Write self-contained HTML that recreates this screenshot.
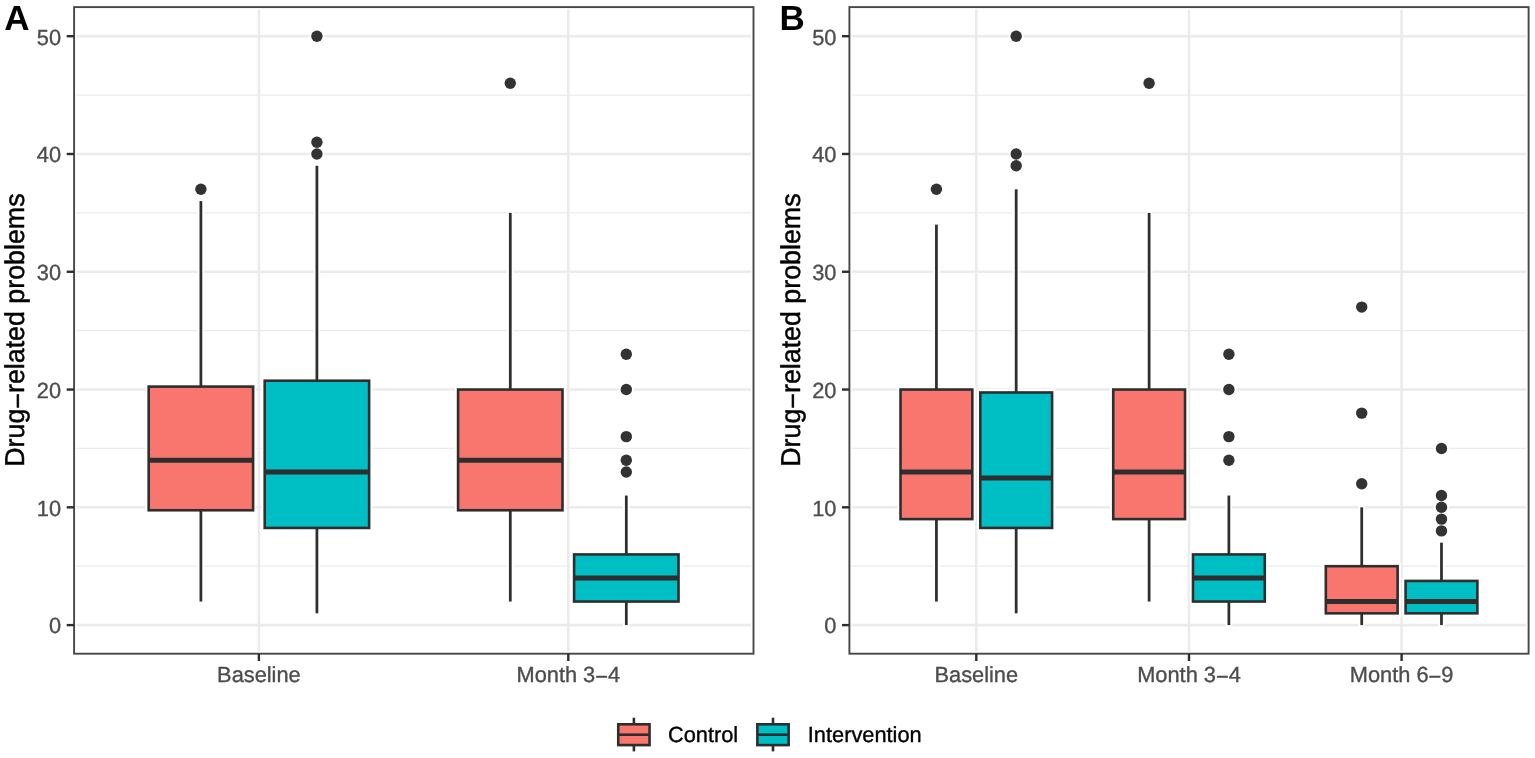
<!DOCTYPE html>
<html lang="en">
<head>
<meta charset="utf-8">
<title>Drug-related problems: Baseline, Month 3-4, Month 6-9 (Control, Intervention)</title>
<style>
html,body{margin:0;padding:0;background:#fff;}
body{width:1535px;height:758px;overflow:hidden;font-family:"Liberation Sans",sans-serif;}
svg{display:block;}
</style>
</head>
<body>
<svg width="1535" height="758" viewBox="0 0 1535 758" font-family="'Liberation Sans', sans-serif" text-rendering="geometricPrecision">
<rect width="1535" height="758" fill="#fff"/>
<g class="panel">
<rect x="74.1" y="7.1" width="679.40" height="646.60" fill="#fff"/>
<g class="grid">
<line x1="74.1" x2="753.5" y1="566.21" y2="566.21" stroke="#ebebeb" stroke-width="1.3"/>
<line x1="74.1" x2="753.5" y1="448.43" y2="448.43" stroke="#ebebeb" stroke-width="1.3"/>
<line x1="74.1" x2="753.5" y1="330.65" y2="330.65" stroke="#ebebeb" stroke-width="1.3"/>
<line x1="74.1" x2="753.5" y1="212.87" y2="212.87" stroke="#ebebeb" stroke-width="1.3"/>
<line x1="74.1" x2="753.5" y1="95.09" y2="95.09" stroke="#ebebeb" stroke-width="1.3"/>
<line x1="74.1" x2="753.5" y1="625.10" y2="625.10" stroke="#ebebeb" stroke-width="2.6"/>
<line x1="74.1" x2="753.5" y1="507.32" y2="507.32" stroke="#ebebeb" stroke-width="2.6"/>
<line x1="74.1" x2="753.5" y1="389.54" y2="389.54" stroke="#ebebeb" stroke-width="2.6"/>
<line x1="74.1" x2="753.5" y1="271.76" y2="271.76" stroke="#ebebeb" stroke-width="2.6"/>
<line x1="74.1" x2="753.5" y1="153.98" y2="153.98" stroke="#ebebeb" stroke-width="2.6"/>
<line x1="74.1" x2="753.5" y1="36.20" y2="36.20" stroke="#ebebeb" stroke-width="2.6"/>
<line x1="258.90" x2="258.90" y1="7.1" y2="653.7" stroke="#ebebeb" stroke-width="2.6"/>
<line x1="568.30" x2="568.30" y1="7.1" y2="653.7" stroke="#ebebeb" stroke-width="2.6"/>
</g>
<g class="halo" stroke="#fff" fill="#fff">
<circle cx="200.89" cy="189.31" r="7.50" stroke="none"/>
<line x1="200.89" x2="200.89" y1="199.09" y2="603.54" stroke-width="6.75"/>
<rect x="148.68" y="386.60" width="104.42" height="123.67" stroke-width="6.6"/>
<circle cx="316.91" cy="153.98" r="7.50" stroke="none"/>
<circle cx="316.91" cy="142.20" r="7.50" stroke="none"/>
<circle cx="316.91" cy="36.20" r="7.50" stroke="none"/>
<line x1="316.91" x2="316.91" y1="163.76" y2="615.32" stroke-width="6.75"/>
<rect x="264.70" y="380.71" width="104.42" height="147.23" stroke-width="6.6"/>
<circle cx="510.29" cy="83.31" r="7.50" stroke="none"/>
<line x1="510.29" x2="510.29" y1="210.87" y2="603.54" stroke-width="6.75"/>
<rect x="458.08" y="389.54" width="104.42" height="120.72" stroke-width="6.6"/>
<circle cx="626.31" cy="471.99" r="7.50" stroke="none"/>
<circle cx="626.31" cy="460.21" r="7.50" stroke="none"/>
<circle cx="626.31" cy="436.65" r="7.50" stroke="none"/>
<circle cx="626.31" cy="389.54" r="7.50" stroke="none"/>
<circle cx="626.31" cy="354.21" r="7.50" stroke="none"/>
<line x1="626.31" x2="626.31" y1="493.54" y2="627.10" stroke-width="6.75"/>
<rect x="574.10" y="554.43" width="104.42" height="47.11" stroke-width="6.6"/>
<rect x="74.1" y="7.1" width="679.40" height="646.60" fill="none" stroke-width="4.9"/>
</g>
<g class="box">
<circle cx="200.89" cy="189.31" r="5.7" fill="#333333"/>
<line x1="200.89" x2="200.89" y1="201.09" y2="386.60" stroke="#2e2e2e" stroke-width="2.75"/>
<line x1="200.89" x2="200.89" y1="510.26" y2="601.54" stroke="#2e2e2e" stroke-width="2.75"/>
<rect x="148.68" y="386.60" width="104.42" height="123.67" fill="#F8766D" stroke="#2e2e2e" stroke-width="2.6" stroke-linejoin="miter"/>
<line x1="148.68" x2="253.10" y1="460.21" y2="460.21" stroke="#2e2e2e" stroke-width="5.0"/>
</g>
<g class="box">
<circle cx="316.91" cy="153.98" r="5.7" fill="#333333"/>
<circle cx="316.91" cy="142.20" r="5.7" fill="#333333"/>
<circle cx="316.91" cy="36.20" r="5.7" fill="#333333"/>
<line x1="316.91" x2="316.91" y1="165.76" y2="380.71" stroke="#2e2e2e" stroke-width="2.75"/>
<line x1="316.91" x2="316.91" y1="527.93" y2="613.32" stroke="#2e2e2e" stroke-width="2.75"/>
<rect x="264.70" y="380.71" width="104.42" height="147.23" fill="#00BFC4" stroke="#2e2e2e" stroke-width="2.6" stroke-linejoin="miter"/>
<line x1="264.70" x2="369.12" y1="471.99" y2="471.99" stroke="#2e2e2e" stroke-width="5.0"/>
</g>
<g class="box">
<circle cx="510.29" cy="83.31" r="5.7" fill="#333333"/>
<line x1="510.29" x2="510.29" y1="212.87" y2="389.54" stroke="#2e2e2e" stroke-width="2.75"/>
<line x1="510.29" x2="510.29" y1="510.26" y2="601.54" stroke="#2e2e2e" stroke-width="2.75"/>
<rect x="458.08" y="389.54" width="104.42" height="120.72" fill="#F8766D" stroke="#2e2e2e" stroke-width="2.6" stroke-linejoin="miter"/>
<line x1="458.08" x2="562.50" y1="460.21" y2="460.21" stroke="#2e2e2e" stroke-width="5.0"/>
</g>
<g class="box">
<circle cx="626.31" cy="471.99" r="5.7" fill="#333333"/>
<circle cx="626.31" cy="460.21" r="5.7" fill="#333333"/>
<circle cx="626.31" cy="436.65" r="5.7" fill="#333333"/>
<circle cx="626.31" cy="389.54" r="5.7" fill="#333333"/>
<circle cx="626.31" cy="354.21" r="5.7" fill="#333333"/>
<line x1="626.31" x2="626.31" y1="495.54" y2="554.43" stroke="#2e2e2e" stroke-width="2.75"/>
<line x1="626.31" x2="626.31" y1="601.54" y2="625.10" stroke="#2e2e2e" stroke-width="2.75"/>
<rect x="574.10" y="554.43" width="104.42" height="47.11" fill="#00BFC4" stroke="#2e2e2e" stroke-width="2.6" stroke-linejoin="miter"/>
<line x1="574.10" x2="678.52" y1="577.99" y2="577.99" stroke="#2e2e2e" stroke-width="5.0"/>
</g>
<rect x="74.1" y="7.1" width="679.40" height="646.60" fill="none" stroke="#474747" stroke-width="1.9"/>
<g class="axis-y">
<line x1="66.70" x2="74.10" y1="625.10" y2="625.10" stroke="#2e2e2e" stroke-width="2.4"/>
<text transform="translate(61.10,633.40)" text-anchor="end" font-size="21.8" fill="#4d4d4d" stroke="#4d4d4d" stroke-width="0.35">0</text>
<line x1="66.70" x2="74.10" y1="507.32" y2="507.32" stroke="#2e2e2e" stroke-width="2.4"/>
<text transform="translate(61.10,515.62)" text-anchor="end" font-size="21.8" fill="#4d4d4d" stroke="#4d4d4d" stroke-width="0.35">10</text>
<line x1="66.70" x2="74.10" y1="389.54" y2="389.54" stroke="#2e2e2e" stroke-width="2.4"/>
<text transform="translate(61.10,397.84)" text-anchor="end" font-size="21.8" fill="#4d4d4d" stroke="#4d4d4d" stroke-width="0.35">20</text>
<line x1="66.70" x2="74.10" y1="271.76" y2="271.76" stroke="#2e2e2e" stroke-width="2.4"/>
<text transform="translate(61.10,280.06)" text-anchor="end" font-size="21.8" fill="#4d4d4d" stroke="#4d4d4d" stroke-width="0.35">30</text>
<line x1="66.70" x2="74.10" y1="153.98" y2="153.98" stroke="#2e2e2e" stroke-width="2.4"/>
<text transform="translate(61.10,162.28)" text-anchor="end" font-size="21.8" fill="#4d4d4d" stroke="#4d4d4d" stroke-width="0.35">40</text>
<line x1="66.70" x2="74.10" y1="36.20" y2="36.20" stroke="#2e2e2e" stroke-width="2.4"/>
<text transform="translate(61.10,44.50)" text-anchor="end" font-size="21.8" fill="#4d4d4d" stroke="#4d4d4d" stroke-width="0.35">50</text>
</g>
<g class="axis-x">
<line x1="258.90" x2="258.90" y1="653.7" y2="661.00" stroke="#2e2e2e" stroke-width="2.4"/>
<text transform="translate(258.90,682.20)" text-anchor="middle" font-size="21.8" fill="#4d4d4d" stroke="#4d4d4d" stroke-width="0.35">Baseline</text>
<line x1="568.30" x2="568.30" y1="653.7" y2="661.00" stroke="#2e2e2e" stroke-width="2.4"/>
<text transform="translate(568.30,682.20)" text-anchor="middle" font-size="21.8" fill="#4d4d4d" stroke="#4d4d4d" stroke-width="0.35">Month 3<tspan dy="1.7">−</tspan><tspan dy="-1.7">4</tspan></text>
</g>
<text transform="translate(24.40,330.10) rotate(-90) scale(1,1.02)" text-anchor="middle" font-size="26.8" fill="#000" stroke="#000" stroke-width="0.45">Drug<tspan dy="2.09">−</tspan><tspan dy="-2.09">related problems</tspan></text>
<text transform="translate(4.20,30.10)" text-anchor="start" font-size="35" fill="#000" font-weight="bold">A</text>
</g>
<g class="panel">
<rect x="849.4" y="7.1" width="679.20" height="646.60" fill="#fff"/>
<g class="grid">
<line x1="849.4" x2="1528.6" y1="566.21" y2="566.21" stroke="#ebebeb" stroke-width="1.3"/>
<line x1="849.4" x2="1528.6" y1="448.43" y2="448.43" stroke="#ebebeb" stroke-width="1.3"/>
<line x1="849.4" x2="1528.6" y1="330.65" y2="330.65" stroke="#ebebeb" stroke-width="1.3"/>
<line x1="849.4" x2="1528.6" y1="212.87" y2="212.87" stroke="#ebebeb" stroke-width="1.3"/>
<line x1="849.4" x2="1528.6" y1="95.09" y2="95.09" stroke="#ebebeb" stroke-width="1.3"/>
<line x1="849.4" x2="1528.6" y1="625.10" y2="625.10" stroke="#ebebeb" stroke-width="2.6"/>
<line x1="849.4" x2="1528.6" y1="507.32" y2="507.32" stroke="#ebebeb" stroke-width="2.6"/>
<line x1="849.4" x2="1528.6" y1="389.54" y2="389.54" stroke="#ebebeb" stroke-width="2.6"/>
<line x1="849.4" x2="1528.6" y1="271.76" y2="271.76" stroke="#ebebeb" stroke-width="2.6"/>
<line x1="849.4" x2="1528.6" y1="153.98" y2="153.98" stroke="#ebebeb" stroke-width="2.6"/>
<line x1="849.4" x2="1528.6" y1="36.20" y2="36.20" stroke="#ebebeb" stroke-width="2.6"/>
<line x1="976.30" x2="976.30" y1="7.1" y2="653.7" stroke="#ebebeb" stroke-width="2.6"/>
<line x1="1189.00" x2="1189.00" y1="7.1" y2="653.7" stroke="#ebebeb" stroke-width="2.6"/>
<line x1="1401.60" x2="1401.60" y1="7.1" y2="653.7" stroke="#ebebeb" stroke-width="2.6"/>
</g>
<g class="halo" stroke="#fff" fill="#fff">
<circle cx="936.42" cy="189.31" r="7.50" stroke="none"/>
<line x1="936.42" x2="936.42" y1="222.65" y2="603.54" stroke-width="6.75"/>
<rect x="900.53" y="389.54" width="71.79" height="129.56" stroke-width="6.6"/>
<circle cx="1016.18" cy="165.76" r="7.50" stroke="none"/>
<circle cx="1016.18" cy="153.98" r="7.50" stroke="none"/>
<circle cx="1016.18" cy="36.20" r="7.50" stroke="none"/>
<line x1="1016.18" x2="1016.18" y1="187.31" y2="615.32" stroke-width="6.75"/>
<rect x="980.29" y="392.48" width="71.79" height="135.45" stroke-width="6.6"/>
<circle cx="1149.12" cy="83.31" r="7.50" stroke="none"/>
<line x1="1149.12" x2="1149.12" y1="210.87" y2="603.54" stroke-width="6.75"/>
<rect x="1113.23" y="389.54" width="71.79" height="129.56" stroke-width="6.6"/>
<circle cx="1228.88" cy="460.21" r="7.50" stroke="none"/>
<circle cx="1228.88" cy="436.65" r="7.50" stroke="none"/>
<circle cx="1228.88" cy="389.54" r="7.50" stroke="none"/>
<circle cx="1228.88" cy="354.21" r="7.50" stroke="none"/>
<line x1="1228.88" x2="1228.88" y1="493.54" y2="627.10" stroke-width="6.75"/>
<rect x="1192.99" y="554.43" width="71.79" height="47.11" stroke-width="6.6"/>
<circle cx="1361.72" cy="483.76" r="7.50" stroke="none"/>
<circle cx="1361.72" cy="413.10" r="7.50" stroke="none"/>
<circle cx="1361.72" cy="307.09" r="7.50" stroke="none"/>
<line x1="1361.72" x2="1361.72" y1="505.32" y2="627.10" stroke-width="6.75"/>
<rect x="1325.83" y="566.21" width="71.79" height="47.11" stroke-width="6.6"/>
<circle cx="1441.48" cy="530.88" r="7.50" stroke="none"/>
<circle cx="1441.48" cy="519.10" r="7.50" stroke="none"/>
<circle cx="1441.48" cy="507.32" r="7.50" stroke="none"/>
<circle cx="1441.48" cy="495.54" r="7.50" stroke="none"/>
<circle cx="1441.48" cy="448.43" r="7.50" stroke="none"/>
<line x1="1441.48" x2="1441.48" y1="540.65" y2="627.10" stroke-width="6.75"/>
<rect x="1405.59" y="580.93" width="71.79" height="32.39" stroke-width="6.6"/>
<rect x="849.4" y="7.1" width="679.20" height="646.60" fill="none" stroke-width="4.9"/>
</g>
<g class="box">
<circle cx="936.42" cy="189.31" r="5.7" fill="#333333"/>
<line x1="936.42" x2="936.42" y1="224.65" y2="389.54" stroke="#2e2e2e" stroke-width="2.75"/>
<line x1="936.42" x2="936.42" y1="519.10" y2="601.54" stroke="#2e2e2e" stroke-width="2.75"/>
<rect x="900.53" y="389.54" width="71.79" height="129.56" fill="#F8766D" stroke="#2e2e2e" stroke-width="2.6" stroke-linejoin="miter"/>
<line x1="900.53" x2="972.31" y1="471.99" y2="471.99" stroke="#2e2e2e" stroke-width="5.0"/>
</g>
<g class="box">
<circle cx="1016.18" cy="165.76" r="5.7" fill="#333333"/>
<circle cx="1016.18" cy="153.98" r="5.7" fill="#333333"/>
<circle cx="1016.18" cy="36.20" r="5.7" fill="#333333"/>
<line x1="1016.18" x2="1016.18" y1="189.31" y2="392.48" stroke="#2e2e2e" stroke-width="2.75"/>
<line x1="1016.18" x2="1016.18" y1="527.93" y2="613.32" stroke="#2e2e2e" stroke-width="2.75"/>
<rect x="980.29" y="392.48" width="71.79" height="135.45" fill="#00BFC4" stroke="#2e2e2e" stroke-width="2.6" stroke-linejoin="miter"/>
<line x1="980.29" x2="1052.07" y1="477.88" y2="477.88" stroke="#2e2e2e" stroke-width="5.0"/>
</g>
<g class="box">
<circle cx="1149.12" cy="83.31" r="5.7" fill="#333333"/>
<line x1="1149.12" x2="1149.12" y1="212.87" y2="389.54" stroke="#2e2e2e" stroke-width="2.75"/>
<line x1="1149.12" x2="1149.12" y1="519.10" y2="601.54" stroke="#2e2e2e" stroke-width="2.75"/>
<rect x="1113.23" y="389.54" width="71.79" height="129.56" fill="#F8766D" stroke="#2e2e2e" stroke-width="2.6" stroke-linejoin="miter"/>
<line x1="1113.23" x2="1185.01" y1="471.99" y2="471.99" stroke="#2e2e2e" stroke-width="5.0"/>
</g>
<g class="box">
<circle cx="1228.88" cy="460.21" r="5.7" fill="#333333"/>
<circle cx="1228.88" cy="436.65" r="5.7" fill="#333333"/>
<circle cx="1228.88" cy="389.54" r="5.7" fill="#333333"/>
<circle cx="1228.88" cy="354.21" r="5.7" fill="#333333"/>
<line x1="1228.88" x2="1228.88" y1="495.54" y2="554.43" stroke="#2e2e2e" stroke-width="2.75"/>
<line x1="1228.88" x2="1228.88" y1="601.54" y2="625.10" stroke="#2e2e2e" stroke-width="2.75"/>
<rect x="1192.99" y="554.43" width="71.79" height="47.11" fill="#00BFC4" stroke="#2e2e2e" stroke-width="2.6" stroke-linejoin="miter"/>
<line x1="1192.99" x2="1264.77" y1="577.99" y2="577.99" stroke="#2e2e2e" stroke-width="5.0"/>
</g>
<g class="box">
<circle cx="1361.72" cy="483.76" r="5.7" fill="#333333"/>
<circle cx="1361.72" cy="413.10" r="5.7" fill="#333333"/>
<circle cx="1361.72" cy="307.09" r="5.7" fill="#333333"/>
<line x1="1361.72" x2="1361.72" y1="507.32" y2="566.21" stroke="#2e2e2e" stroke-width="2.75"/>
<line x1="1361.72" x2="1361.72" y1="613.32" y2="625.10" stroke="#2e2e2e" stroke-width="2.75"/>
<rect x="1325.83" y="566.21" width="71.79" height="47.11" fill="#F8766D" stroke="#2e2e2e" stroke-width="2.6" stroke-linejoin="miter"/>
<line x1="1325.83" x2="1397.61" y1="601.54" y2="601.54" stroke="#2e2e2e" stroke-width="5.0"/>
</g>
<g class="box">
<circle cx="1441.48" cy="530.88" r="5.7" fill="#333333"/>
<circle cx="1441.48" cy="519.10" r="5.7" fill="#333333"/>
<circle cx="1441.48" cy="507.32" r="5.7" fill="#333333"/>
<circle cx="1441.48" cy="495.54" r="5.7" fill="#333333"/>
<circle cx="1441.48" cy="448.43" r="5.7" fill="#333333"/>
<line x1="1441.48" x2="1441.48" y1="542.65" y2="580.93" stroke="#2e2e2e" stroke-width="2.75"/>
<line x1="1441.48" x2="1441.48" y1="613.32" y2="625.10" stroke="#2e2e2e" stroke-width="2.75"/>
<rect x="1405.59" y="580.93" width="71.79" height="32.39" fill="#00BFC4" stroke="#2e2e2e" stroke-width="2.6" stroke-linejoin="miter"/>
<line x1="1405.59" x2="1477.37" y1="601.54" y2="601.54" stroke="#2e2e2e" stroke-width="5.0"/>
</g>
<rect x="849.4" y="7.1" width="679.20" height="646.60" fill="none" stroke="#474747" stroke-width="1.9"/>
<g class="axis-y">
<line x1="842.00" x2="849.40" y1="625.10" y2="625.10" stroke="#2e2e2e" stroke-width="2.4"/>
<text transform="translate(836.40,633.40)" text-anchor="end" font-size="21.8" fill="#4d4d4d" stroke="#4d4d4d" stroke-width="0.35">0</text>
<line x1="842.00" x2="849.40" y1="507.32" y2="507.32" stroke="#2e2e2e" stroke-width="2.4"/>
<text transform="translate(836.40,515.62)" text-anchor="end" font-size="21.8" fill="#4d4d4d" stroke="#4d4d4d" stroke-width="0.35">10</text>
<line x1="842.00" x2="849.40" y1="389.54" y2="389.54" stroke="#2e2e2e" stroke-width="2.4"/>
<text transform="translate(836.40,397.84)" text-anchor="end" font-size="21.8" fill="#4d4d4d" stroke="#4d4d4d" stroke-width="0.35">20</text>
<line x1="842.00" x2="849.40" y1="271.76" y2="271.76" stroke="#2e2e2e" stroke-width="2.4"/>
<text transform="translate(836.40,280.06)" text-anchor="end" font-size="21.8" fill="#4d4d4d" stroke="#4d4d4d" stroke-width="0.35">30</text>
<line x1="842.00" x2="849.40" y1="153.98" y2="153.98" stroke="#2e2e2e" stroke-width="2.4"/>
<text transform="translate(836.40,162.28)" text-anchor="end" font-size="21.8" fill="#4d4d4d" stroke="#4d4d4d" stroke-width="0.35">40</text>
<line x1="842.00" x2="849.40" y1="36.20" y2="36.20" stroke="#2e2e2e" stroke-width="2.4"/>
<text transform="translate(836.40,44.50)" text-anchor="end" font-size="21.8" fill="#4d4d4d" stroke="#4d4d4d" stroke-width="0.35">50</text>
</g>
<g class="axis-x">
<line x1="976.30" x2="976.30" y1="653.7" y2="661.00" stroke="#2e2e2e" stroke-width="2.4"/>
<text transform="translate(976.30,682.20)" text-anchor="middle" font-size="21.8" fill="#4d4d4d" stroke="#4d4d4d" stroke-width="0.35">Baseline</text>
<line x1="1189.00" x2="1189.00" y1="653.7" y2="661.00" stroke="#2e2e2e" stroke-width="2.4"/>
<text transform="translate(1189.00,682.20)" text-anchor="middle" font-size="21.8" fill="#4d4d4d" stroke="#4d4d4d" stroke-width="0.35">Month 3<tspan dy="1.7">−</tspan><tspan dy="-1.7">4</tspan></text>
<line x1="1401.60" x2="1401.60" y1="653.7" y2="661.00" stroke="#2e2e2e" stroke-width="2.4"/>
<text transform="translate(1401.60,682.20)" text-anchor="middle" font-size="21.8" fill="#4d4d4d" stroke="#4d4d4d" stroke-width="0.35">Month 6<tspan dy="1.7">−</tspan><tspan dy="-1.7">9</tspan></text>
</g>
<text transform="translate(799.70,330.10) rotate(-90) scale(1,1.02)" text-anchor="middle" font-size="26.8" fill="#000" stroke="#000" stroke-width="0.45">Drug<tspan dy="2.09">−</tspan><tspan dy="-2.09">related problems</tspan></text>
<text transform="translate(779.60,30.10)" text-anchor="start" font-size="35" fill="#000" font-weight="bold">B</text>
</g>
<g class="legend">
<g class="key">
<line x1="633.9" x2="633.9" y1="717.7" y2="751.4" stroke="#2e2e2e" stroke-width="2.6"/>
<rect x="618.25" y="724.3" width="31.3" height="20.8" fill="#F8766D" stroke="#2e2e2e" stroke-width="2.6"/>
<line x1="618.25" x2="649.55" y1="734.7" y2="734.7" stroke="#2e2e2e" stroke-width="2.6"/>
</g>
<text transform="translate(667.90,742.20)" text-anchor="start" font-size="21.8" fill="#000" stroke="#000" stroke-width="0.35">Control</text>
<g class="key">
<line x1="773.0" x2="773.0" y1="717.7" y2="751.4" stroke="#2e2e2e" stroke-width="2.6"/>
<rect x="757.35" y="724.3" width="31.3" height="20.8" fill="#00BFC4" stroke="#2e2e2e" stroke-width="2.6"/>
<line x1="757.35" x2="788.65" y1="734.7" y2="734.7" stroke="#2e2e2e" stroke-width="2.6"/>
</g>
<text transform="translate(807.80,742.20)" text-anchor="start" font-size="21.8" fill="#000" stroke="#000" stroke-width="0.35">Intervention</text>
</g>
</svg>
</body>
</html>
